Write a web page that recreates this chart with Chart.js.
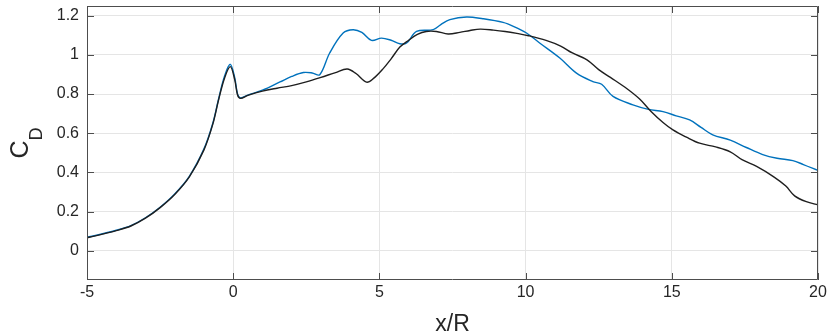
<!DOCTYPE html>
<html lang="en">
<head>
<meta charset="UTF-8" />
<script src="https://cdn.jsdelivr.net/npm/chart.js@4/dist/chart.umd.min.js"></script>
<title>C_D vs x/R</title>
<style>
  html, body { margin: 0; padding: 0; background: #fff; }
  #wrap { width: 831px; height: 335px; }
</style>
</head>
<body>
<div id="wrap"><canvas id="myChart"></canvas></div>
<script>
// tick values
const xTicks = [-5, 0, 5, 10, 15, 20];
const yTicks = [0, 0.2, 0.4, 0.6, 0.8, 1, 1.2];

// blue curve
const blueX = [-5, -4.5, -4, -3.5, -3, -2.5, -2, -1.5, -1, -0.7, -0.5, -0.3, -0.1, 0.05, 0.15, 0.25, 0.5,
  1, 1.6, 2, 2.4, 2.7, 2.96, 3.3, 3.76, 4.1, 4.4, 4.73, 5.07, 5.4, 5.7, 5.93, 6.27, 6.84, 7.1, 7.41, 7.98,
  8.54, 9.23, 9.6, 10.03, 10.48, 11.17, 11.74, 12.3, 12.6, 12.99, 13.67, 14.2, 14.7, 15.15, 15.61, 16.0,
  16.4, 17.0, 17.55, 18.11, 18.6, 19.14, 19.5, 20];
const blueY = [0.068, 0.085, 0.104, 0.128, 0.168, 0.222, 0.29, 0.38, 0.52, 0.65, 0.775, 0.89, 0.952, 0.885, 0.8, 0.78, 0.795,
  0.82, 0.862, 0.89, 0.91, 0.908, 0.899, 1.01, 1.112, 1.129, 1.115, 1.074, 1.086, 1.075, 1.057, 1.061, 1.12, 1.129, 1.155, 1.18, 1.194,
  1.185, 1.166, 1.145, 1.112, 1.061, 0.984, 0.907, 0.864, 0.85, 0.788, 0.745, 0.722, 0.71, 0.689, 0.668, 0.63,
  0.592, 0.565, 0.527, 0.491, 0.472, 0.46, 0.44, 0.41];

// black curve
const blackX = [-5, -4.5, -4, -3.5, -3, -2.5, -2, -1.5, -1, -0.7, -0.5, -0.3, -0.1, 0.05, 0.15, 0.25, 0.5,
  1, 1.5, 2, 2.5, 3, 3.5, 3.9, 4.2, 4.56, 4.8, 5.13, 5.4, 5.7, 6.0, 6.3, 6.6, 6.95, 7.35, 7.75, 8.1, 8.45,
  8.9, 9.3, 9.7, 10.1, 10.7, 11.2, 11.6, 12.1, 12.5, 12.9, 13.4, 13.9, 14.3, 14.7, 15.04, 15.5, 15.95,
  16.5, 17.0, 17.4, 17.9, 18.5, 18.9, 19.2, 19.6, 20];
const blackY = [0.066, 0.083, 0.102, 0.126, 0.166, 0.22, 0.287, 0.377, 0.515, 0.645, 0.77, 0.88, 0.94, 0.875, 0.795, 0.778, 0.793,
  0.815, 0.83, 0.843, 0.862, 0.885, 0.91, 0.928, 0.905, 0.861, 0.88, 0.93, 0.98, 1.04, 1.075, 1.105, 1.12, 1.12, 1.107, 1.115, 1.125, 1.132,
  1.127, 1.12, 1.11, 1.098, 1.074, 1.045, 1.01, 0.975, 0.925, 0.885, 0.835, 0.775, 0.71, 0.655, 0.617, 0.58, 0.549,
  0.53, 0.505, 0.465, 0.43, 0.376, 0.33, 0.28, 0.25, 0.234];

const toPts = (xs, ys) => xs.map((x, i) => ({ x: x, y: ys[i] }));

const axisColor = '#4d4d4d';
const fontFamily = "'Liberation Sans', Arial, Helvetica, sans-serif";

// MATLAB style box, inward ticks and axis titles
const matlabAxes = {
  id: 'matlabAxes',
  afterDraw(chart) {
    const ctx = chart.ctx;
    const a = chart.chartArea;
    const xs = chart.scales.x, ys = chart.scales.y;
    const len = 7;
    ctx.save();
    ctx.strokeStyle = axisColor;
    ctx.lineWidth = 1;
    ctx.beginPath();
    ctx.rect(a.left + 0.5, a.top + 0.5, a.right - a.left - 1, a.bottom - a.top - 1);
    xTicks.forEach(v => {
      const px = Math.round(xs.getPixelForValue(v)) + 0.5;
      ctx.moveTo(px, a.bottom); ctx.lineTo(px, a.bottom - len);
      ctx.moveTo(px, a.top); ctx.lineTo(px, a.top + len);
    });
    yTicks.forEach(v => {
      const py = Math.round(ys.getPixelForValue(v)) + 0.5;
      ctx.moveTo(a.left, py); ctx.lineTo(a.left + len, py);
      ctx.moveTo(a.right, py); ctx.lineTo(a.right - len, py);
    });
    ctx.stroke();

    ctx.fillStyle = '#262626';
    // x title
    ctx.font = '23px ' + fontFamily;
    ctx.textAlign = 'center';
    ctx.textBaseline = 'alphabetic';
    ctx.fillText('x/R', (a.left + a.right) / 2, 331);
    // y title C_D
    ctx.translate(36, (a.top + a.bottom) / 2);
    ctx.rotate(-Math.PI / 2);
    ctx.textAlign = 'left';
    ctx.font = '25px ' + fontFamily;
    const wC = ctx.measureText('C').width;
    ctx.font = '18px ' + fontFamily;
    const wD = ctx.measureText('D').width;
    const x0 = -(wC + wD) / 2;
    ctx.font = '25px ' + fontFamily;
    ctx.fillText('C', x0, -8);
    ctx.font = '18px ' + fontFamily;
    ctx.fillText('D', x0 + wC, 6);
    ctx.restore();
  }
};

const ctx = document.getElementById('myChart').getContext('2d');
const myChart = new Chart(ctx, {
  type: 'line',
  data: {
    datasets: [
      {
        label: 'black',
        data: toPts(blackX, blackY),
        borderColor: '#1f1f1f',
        borderWidth: 1.4,
        pointRadius: 0,
        tension: 0.35,
        fill: false
      },
      {
        label: 'blue',
        data: toPts(blueX, blueY),
        borderColor: '#0072BD',
        borderWidth: 1.4,
        pointRadius: 0,
        tension: 0.35,
        fill: false
      }
    ]
  },
  options: {
    responsive: true,
    maintainAspectRatio: false,
    animation: false,
    layout: { padding: { left: 0, right: 13, top: 6, bottom: 0 } },
    plugins: { legend: { display: false }, tooltip: { enabled: false } },
    scales: {
      x: {
        type: 'linear',
        min: -5,
        max: 20,
        afterBuildTicks: s => { s.ticks = xTicks.map(v => ({ value: v })); },
        afterFit: s => { s.height = 55; s.paddingLeft = 0; s.paddingRight = 0; },
        grid: { color: '#e5e5e5', drawTicks: false },
        border: { display: false },
        ticks: {
          padding: 3,
          color: '#262626',
          font: { size: 16, family: fontFamily },
          maxRotation: 0,
          callback: v => String(v)
        }
      },
      y: {
        type: 'linear',
        min: -0.15,
        max: 1.25,
        afterBuildTicks: s => { s.ticks = yTicks.map(v => ({ value: v })); },
        afterFit: s => { s.width = 87; s.paddingTop = 0; s.paddingBottom = 0; },
        grid: { color: '#e5e5e5', drawTicks: false },
        border: { display: false },
        ticks: {
          padding: 8,
          color: '#262626',
          font: { size: 16, family: fontFamily },
          callback: v => String(Math.round(v * 10) / 10)
        }
      }
    }
  },
  plugins: [matlabAxes]
});
</script>
</body>
</html>
